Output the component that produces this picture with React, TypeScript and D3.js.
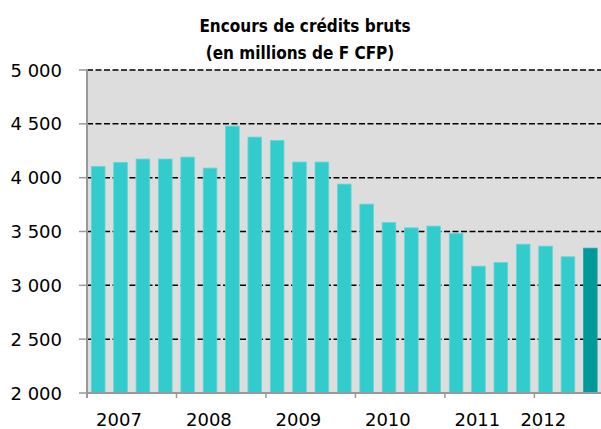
import React from "react";
import * as d3 from "d3";

const quarters: string[] = [
  "2007T1","2007T2","2007T3","2007T4",
  "2008T1","2008T2","2008T3","2008T4",
  "2009T1","2009T2","2009T3","2009T4",
  "2010T1","2010T2","2010T3","2010T4",
  "2011T1","2011T2","2011T3","2011T4",
  "2012T1","2012T2","2012T3",
];
const values: number[] = [
  4105, 4142, 4173, 4173,
  4191, 4089, 4479, 4377,
  4346, 4145, 4145, 3940,
  3754, 3584, 3534, 3550,
  3482, 3178, 3212, 3382,
  3364, 3265, 3345,
];
const yTicks: number[] = [2000, 2500, 3000, 3500, 4000, 4500, 5000];
const yearLabels: string[] = ["2007", "2008", "2009", "2010", "2011", "2012"];
// fractional band index where each year label is centred (layout)
const yearLabelAt: number[] = [1.43, 5.45, 9.45, 13.45, 17.45, 20.4];
const titleLines: string[] = ["Encours de crédits bruts", "(en millions de F CFP)"];

const W = 601, H = 429;
const left = 87, right = 601.5, top = 70, bottom = 393;

export default function App() {
  const x = d3.scaleBand<string>().domain(quarters).range([left, right]).paddingInner(0.39).paddingOuter(0.195);
  const y = d3.scaleLinear().domain([2000, 5000]).range([bottom, top]);
  const step = x.step();
  const fmt = (v: number) => d3.format(",")(v).replace(/,/g, " ");
  const yearTicks = quarters.map((q, i) => i).filter((i) => i % 4 === 0);
  const font = "'DejaVu Sans', Verdana, sans-serif";
  return (
    <svg width={W} height={H} style={{ position: "absolute", left: 0, top: 0, background: "#fff" }}>
      <rect x={left} y={top} width={right - left} height={bottom - top} fill="#dddddd" />
      {yTicks.filter((t) => t > 2000).map((t) => (
        <line key={"g" + t} x1={left} x2={right} y1={y(t)} y2={y(t)} stroke="#000" strokeWidth={1.5} strokeDasharray="6,2.5" />
      ))}
      {values.map((v, i) => (
        <rect key={i} x={x(quarters[i])} y={y(v)} width={x.bandwidth()} height={bottom - y(v)}
          fill={i === values.length - 1 ? "#009999" : "#33cccc"}
          stroke={i === values.length - 1 ? "#22a3a3" : "#66d6d6"} strokeWidth={0.8} />
      ))}
      <line x1={left} x2={left} y1={top - 1} y2={bottom + 5} stroke="#999" strokeWidth={2} />
      <line x1={left} x2={W} y1={bottom} y2={bottom} stroke="#999" strokeWidth={2} />
      {yTicks.map((t) => (
        <g key={"t" + t}>
          <line x1={left - 8} x2={left} y1={y(t)} y2={y(t)} stroke="#999" strokeWidth={1.5} />
          <text x={62} y={y(t) + 6.5} textAnchor="end" fontFamily={font} fontSize={18} fill="#000">{fmt(t)}</text>
        </g>
      ))}
      {yearTicks.map((i) => (
        <line key={"xt" + i} x1={left + i * step} x2={left + i * step} y1={bottom} y2={bottom + 5} stroke="#999" strokeWidth={1.5} />
      ))}
      {yearLabels.map((l, k) => (
        <text key={l} x={left + yearLabelAt[k] * step} y={426} textAnchor="middle" fontFamily={font} fontSize={18} fill="#000">{l}</text>
      ))}
      <text x={305} y={32} textAnchor="middle" fontFamily="'DejaVu Sans Condensed', 'DejaVu Sans', sans-serif" fontStretch="condensed" fontWeight="bold" fontSize={17} fill="#000">{titleLines[0]}</text>
      <text x={300} y={59} textAnchor="middle" fontFamily="'DejaVu Sans Condensed', 'DejaVu Sans', sans-serif" fontStretch="condensed" fontWeight="bold" fontSize={17} fill="#000">{titleLines[1]}</text>
    </svg>
  );
}
